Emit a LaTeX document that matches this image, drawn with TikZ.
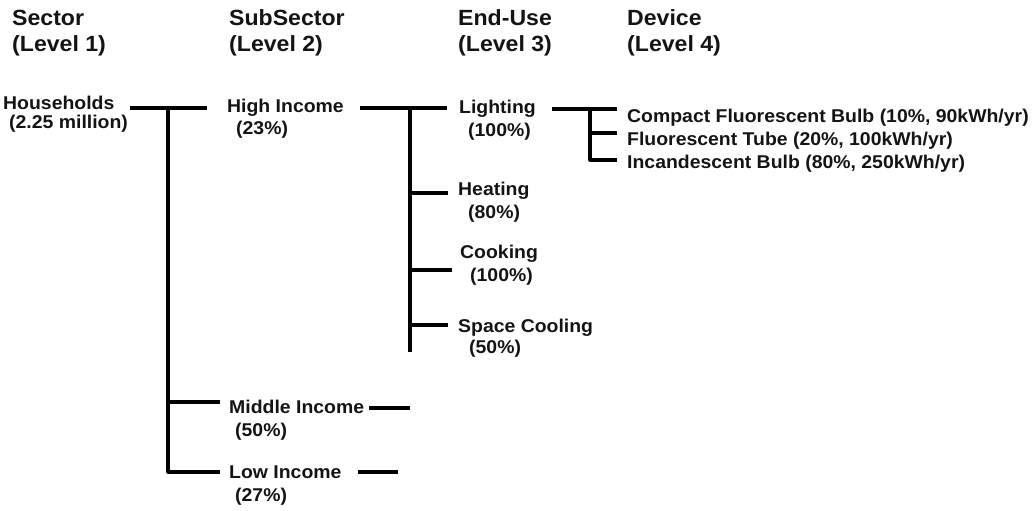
\documentclass[tikz,border=0pt]{standalone}
\usepackage{fontspec}
\setmainfont{Liberation Sans}[FakeStretch=1.05]
\newcommand{\bodyfnt}{\fontsize{18.5}{22}\selectfont\bfseries}
\newcommand{\hdrfnt}{\fontsize{22}{26}\selectfont\bfseries}
\begin{document}
\begin{tikzpicture}[x=1pt,y=-1pt,
  lbl/.style={anchor=base west, inner sep=0pt, font=\bodyfnt, text=black!92},
  hdr/.style={anchor=base west, inner sep=0pt, font=\hdrfnt, text=black!92},
  ln/.style={line width=3.2pt, black, line join=round}]
\useasboundingbox (0,0) rectangle (1033,511);
% headings
\node[hdr] (h1a) at (12,26) {Sector};
\node[hdr] (h1b) at (12,52) {(Level 1)};
\node[hdr] (h2a) at (229,26) {SubSector};
\node[hdr] (h2b) at (229,52) {(Level 2)};
\node[hdr] (h3a) at (458,26) {End-Use};
\node[hdr] (h3b) at (458,52) {(Level 3)};
\node[hdr] (h4a) at (627,26) {Device};
\node[hdr] (h4b) at (627,52) {(Level 4)};
% level 1
\node[lbl] (hh) at (3,109) {Households};
\node[lbl] (hhp) at (9,128) {(2.25 million)};
% level 2
\node[lbl] (hi) at (227,112) {High Income};
\node[lbl] (hip) at (236,134) {(23\%)};
\node[lbl] (mi) at (229,413) {Middle Income};
\node[lbl] (mip) at (235,436) {(50\%)};
\node[lbl] (lo) at (229,478) {Low Income};
\node[lbl] (lop) at (235,501) {(27\%)};
% level 3
\node[lbl] (li) at (459,113) {Lighting};
\node[lbl] (lip) at (468,136) {(100\%)};
\node[lbl] (he) at (458,195) {Heating};
\node[lbl] (hep) at (468,218) {(80\%)};
\node[lbl] (co) at (460,258) {Cooking};
\node[lbl] (cop) at (470,281) {(100\%)};
\node[lbl] (sc) at (458,332) {Space Cooling};
\node[lbl] (scp) at (469,353) {(50\%)};
% level 4
\node[lbl] (d1) at (627,122) {Compact Fluorescent Bulb (10\%, 90kWh/yr)};
\node[lbl] (d2) at (627,145) {Fluorescent Tube (20\%, 100kWh/yr)};
\node[lbl] (d3) at (627,168) {Incandescent Bulb (80\%, 250kWh/yr)};
% junction coordinates
\coordinate (a0) at (130,108);
\coordinate (a1) at (207,108);
\coordinate (aj) at (168,108);
\coordinate (am) at (220,402);
\coordinate (al) at (220,472);
\coordinate (m0) at (369,408);
\coordinate (m1) at (410,408);
\coordinate (l0) at (358,472);
\coordinate (l1) at (398,472);
\coordinate (b0) at (360,108);
\coordinate (b1) at (447,108);
\coordinate (bj) at (410,108);
\coordinate (bb) at (410,352);
\coordinate (bh) at (448,193);
\coordinate (bc) at (452,270);
\coordinate (bs) at (448,325);
\coordinate (c0) at (552,109);
\coordinate (c1) at (617,109);
\coordinate (cj) at (590,109);
\coordinate (c2) at (617,133);
\coordinate (c3) at (617,160);
% connectors
\draw[ln] (a0) -- (a1);
\draw[ln] (aj) |- (al);
\draw[ln] (aj |- am) -- (am);
\draw[ln] (m0) -- (m1);
\draw[ln] (l0) -- (l1);
\draw[ln] (b0) -- (b1);
\draw[ln] (bj) -- (bb);
\draw[ln] (bj |- bh) -- (bh);
\draw[ln] (bj |- bc) -- (bc);
\draw[ln] (bj |- bs) -- (bs);
\draw[ln] (c0) -- (c1);
\draw[ln] (cj) |- (c3);
\draw[ln] (cj |- c2) -- (c2);
\end{tikzpicture}
\end{document}
